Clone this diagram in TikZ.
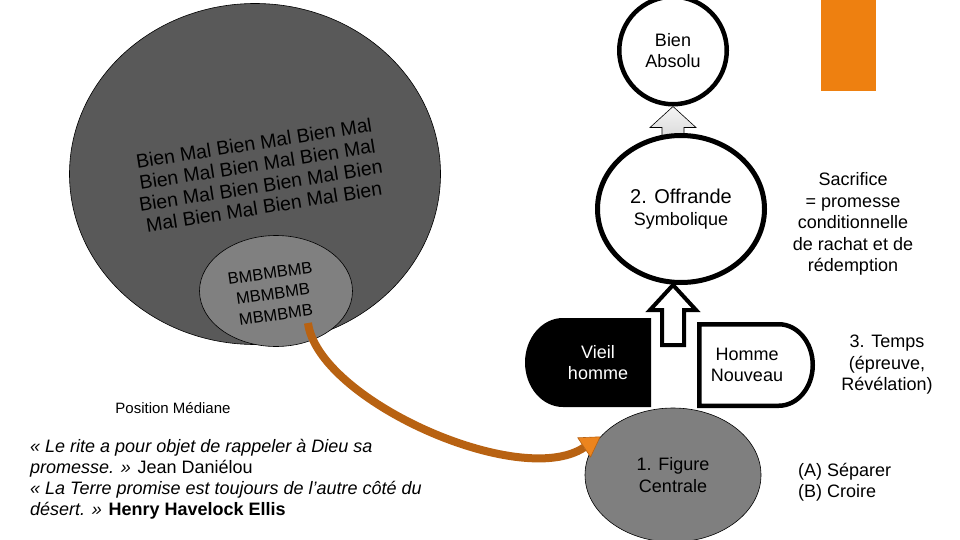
\documentclass[tikz,border=0pt]{standalone}
\usepackage{fontspec}
\setmainfont{Liberation Sans}
\usetikzlibrary{arrows.meta, calc, shapes.geometric}
\tikzset{every node/.style={font=\fontsize{18}{21.5}\selectfont, align=center, inner sep=0pt}}

\begin{document}
\begin{tikzpicture}[x=1pt, y=-1pt, >=Stealth,
    ballnode/.style={ellipse, draw=black, line width=0.6pt},
    ringnode/.style={ellipse, draw=black, line width=4.5pt, fill=white},
    boxarea/.style={rectangle, outer sep=0pt},
    grayup/.style={draw=black, line width=0.6pt, top color=gray!8, bottom color=gray!40},
    whiteup/.style={draw=black, line width=4pt, fill=white, line join=miter},
    orangelink/.style={draw=arrowbrown, line width=8pt,
      -{Triangle[length=20pt, width=24pt, line width=0.6pt, fill=arroworange]}}]
  % Bounding box (slide size).
  \path[use as bounding box] (0,0) rectangle (960,540);

  % Colors.
  \definecolor{ballcol}{RGB}{89,89,89}
  \definecolor{innercol}{RGB}{128,128,128}
  \definecolor{figcol}{RGB}{127,127,127}
  \definecolor{accentcol}{RGB}{238,128,16}
  \definecolor{arrowbrown}{RGB}{184,98,18}
  \definecolor{arroworange}{RGB}{236,132,30}

  % Outer ball and median ball.
  \node[ballnode, fill=ballcol, minimum width=371pt, minimum height=341pt] (monde) at (255,174) {};
  \node[ballnode, fill=innercol, minimum width=153pt, minimum height=111pt] (median) at (276,291) {};
  \node[rotate=9, font=\fontsize{19.5}{21.5}\selectfont] (bienmal) at (259,175)
    {Bien Mal Bien Mal Bien Mal\\Bien Mal Bien Mal Bien Mal\\Bien Mal Bien Bien Mal Bien\\Mal Bien Mal Bien Mal Bien};
  \node[rotate=8, font=\fontsize{16.5}{21}\selectfont] (bmtext) at (273,294) {BMBMBMB\\MBMBMB\\MBMBMB};

  % Absolute good and the offering.
  \node[ringnode, minimum size=107.5pt] (absolu) at (673,50.5) {Bien\\Absolu};
  \draw[grayup] (absolu.south) -- ++(23,21) -- ++(-12,0) -- ++(0,26) -- ++(-22,0)
    -- ++(0,-26) -- ++(-12,0) -- cycle;
  \node[ringnode, line width=5pt, minimum width=167pt, minimum height=147pt] (offrande) at (681,209)
    {{\fontsize{20}{24}\selectfont 2. Offrande}\\Symbolique};

  % Central figure, old man and new man.
  \node[ballnode, fill=figcol, minimum width=176pt, minimum height=134pt] (figure) at (673,475)
    {1. Figure\\Centrale};
  \draw[whiteup] (figure.north |- offrande.south) -- ++(23,25) -- ++(-12,0) -- ++(0,35)
    -- ++(-22,0) -- ++(0,-35) -- ++(-12,0) -- cycle;
  \node[boxarea, minimum width=126pt, minimum height=89pt] (vieil) at (588,362.5) {};
  \fill[black] (vieil.north east) -- ([xshift=38pt]vieil.north west)
    arc[start angle=90, end angle=270, x radius=38pt, y radius=44.5pt] -- (vieil.south east) -- cycle;
  \node[text=white] (vieiltext) at (598,362.5) {Vieil\\homme};
  \node[boxarea, minimum width=113.5pt, minimum height=81.5pt] (nouveau) at (756,365) {};
  \draw[draw=black, line width=4.5pt, fill=white] (nouveau.north west) -- ([xshift=-34pt]nouveau.north east)
    arc[start angle=90, end angle=-90, x radius=34pt, y radius=40.75pt] -- (nouveau.south west) -- cycle;
  \node (nouveautext) at (747,365) {Homme\\Nouveau};

  % Orange link.
  \draw[orangelink] ($(median.center)+(32,32)$) .. controls (318,400) and (520,490) .. (figure.152);

  % Side texts.
  \fill[accentcol] (821,0) rectangle (876,91);
  \node (sacrifice) at (853,224) {Sacrifice\\= promesse\\conditionnelle\\de rachat et de\\rédemption};
  \node (temps) at (887,365) {3. Temps\\(épreuve,\\Révélation)};
  \node[anchor=west, align=left] (choix) at (798,482) {(A) Séparer\\(B) Croire};
  \node[font=\fontsize{15}{18}\selectfont] (mediane) at (173,408) {Position Médiane};
  \node[anchor=north west, align=left, font=\fontsize{18}{21}\selectfont] (citation) at (30,439)
    {\textit{« Le rite a pour objet de rappeler à Dieu sa}\\
     \textit{promesse. »} Jean Daniélou\\
     \textit{« La Terre promise est toujours de l’autre côté du}\\
     \textit{désert. »} \textbf{Henry Havelock Ellis}};
\end{tikzpicture}
\end{document}
